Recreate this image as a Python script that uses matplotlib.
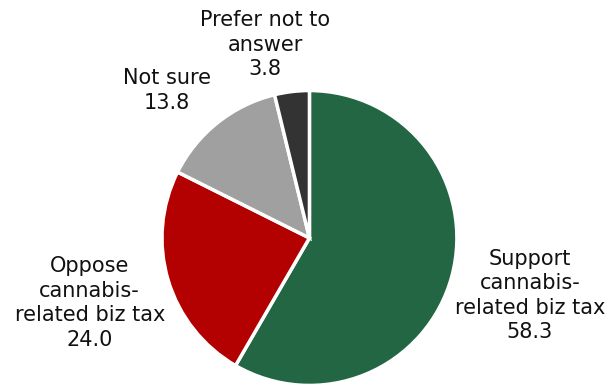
import matplotlib
matplotlib.use("Agg")
import matplotlib.pyplot as plt

categories = ["Support\ncannabis-\nrelated biz tax", "Oppose\ncannabis-\nrelated biz tax",
              "Not sure", "Prefer not to\nanswer"]
values = [58.3, 24.0, 13.8, 3.8]
colors = ["#226644", "#B30000", "#A0A0A0", "#333333"]
# label centres in pie-radius units
label_pos = [(1.495, -0.39), (-1.49, -0.44), (-0.966, 1.0), (-0.30, 1.31)]

fig = plt.figure(figsize=(6.09, 3.85), dpi=100)
ax = fig.add_axes([0, 0, 1, 1])
ax.pie(values, colors=colors, startangle=90, counterclock=False, radius=1.0,
       wedgeprops=dict(edgecolor="white", linewidth=2.5))
for cat, val, (x, y) in zip(categories, values, label_pos):
    ax.text(x, y, f"{cat}\n{val:.1f}", ha="center", va="center", fontsize=15,
            color="#111111", linespacing=1.28, family="DejaVu Sans")
ax.set_xlim(-2.098, 2.031)
ax.set_ylim(-0.997, 1.614)
ax.set_aspect("equal")
ax.axis("off")
fig.savefig("out.png", dpi=100)
